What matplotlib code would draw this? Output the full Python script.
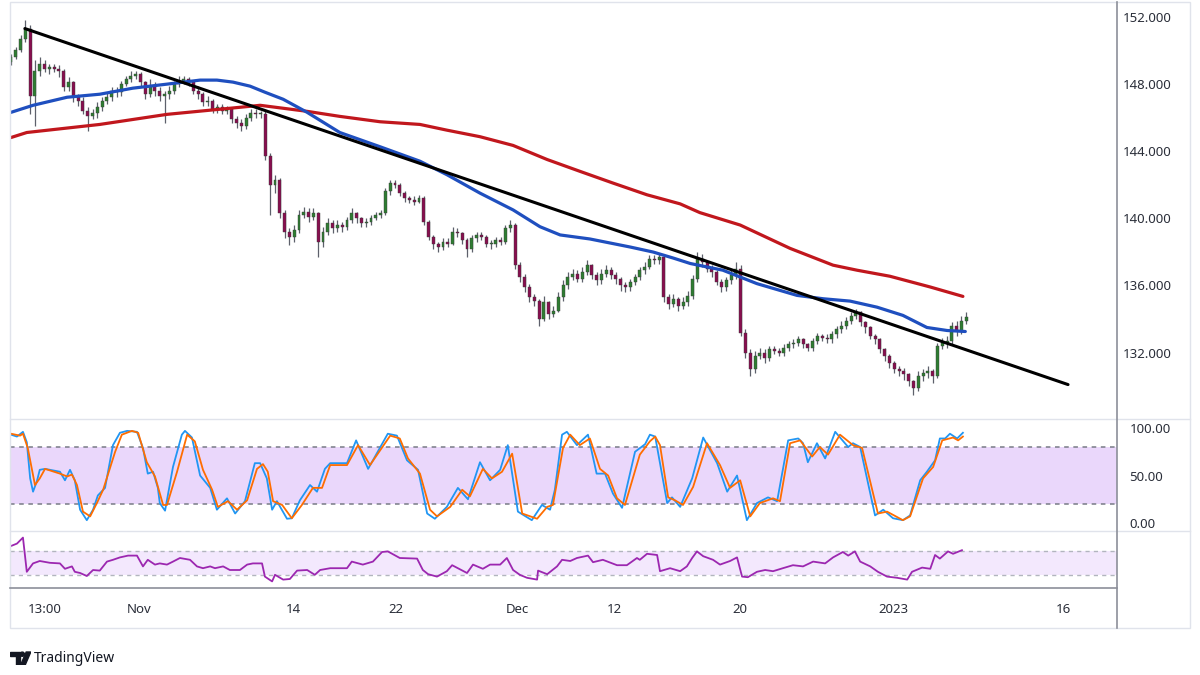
import numpy as np
import matplotlib.pyplot as plt
from matplotlib.lines import Line2D
from matplotlib.patches import Rectangle, Circle, Polygon

plt.rcParams['font.family'] = ['Noto Sans', 'DejaVu Sans']

# --- price candles (4h bars), open = previous close ---
first_open = 149.3
closes = [
    149.6, 150.0, 150.7, 151.3, 147.3, 148.8, 149.2, 148.9, 149.0, 148.9,
    148.8, 147.8, 148.1, 147.2, 147.0, 146.4, 146.1, 146.3, 146.6, 147.0,
    147.2, 147.6, 147.5, 148.0, 148.3, 148.5, 148.6, 148.1, 147.4, 147.9,
    147.6, 147.3, 147.4, 147.6, 148.0, 148.2, 148.3, 148.1, 147.6, 147.4,
    146.9, 147.0, 146.5, 146.6, 146.4, 146.5, 145.9, 145.7, 145.5, 146.0,
    146.3, 146.2, 146.2, 143.7, 142.0, 142.3, 140.3, 139.2, 138.9, 139.3,
    140.2, 140.4, 140.1, 140.3, 138.6, 139.2, 139.7, 139.4, 139.6, 139.5,
    139.9, 140.3, 140.0, 139.7, 139.8, 140.0, 140.2, 140.3, 141.6, 142.1,
    142.0, 141.5, 141.2, 141.1, 141.0, 141.2, 139.8, 138.9, 138.5, 138.3,
    138.6, 138.5, 139.2, 139.1, 138.7, 138.2, 138.8, 139.0, 138.9, 138.5,
    138.5, 138.7, 138.6, 139.4, 139.6, 137.2, 136.5, 135.9, 135.3, 135.1,
    134.0, 135.0, 134.3, 134.5, 135.3, 136.0, 136.5, 136.7, 136.4, 136.8,
    137.2, 136.6, 136.3, 136.7, 136.9, 136.6, 136.4, 136.0, 135.9, 136.2,
    136.5, 136.9, 137.1, 137.6, 137.5, 137.7, 135.3, 134.9, 135.2, 134.8,
    135.0, 135.4, 136.4, 137.6, 137.4, 137.0, 136.8, 136.2, 135.9, 136.3,
    136.6, 137.0, 133.2, 132.0, 131.0, 131.8, 132.0, 131.7, 132.2, 132.1,
    132.0, 132.3, 132.5, 132.6, 132.8, 132.5, 132.3, 132.7, 133.0, 132.9,
    132.8, 133.1, 133.4, 133.6, 133.9, 134.2, 134.4, 133.8, 133.5, 133.0,
    132.8, 132.2, 131.8, 131.4, 131.0, 130.9, 130.7, 130.3, 129.9, 130.6,
    130.8, 130.9, 130.6, 132.4, 132.6, 132.7, 133.6, 133.3, 133.9, 134.1,
]
highs = [
    149.8, 150.2, 150.9, 151.8, 151.5, 149.4, 149.6, 149.4, 149.2, 149.2,
    149.1, 148.9, 148.4, 148.2, 147.4, 147.2, 146.6, 146.5, 146.9, 147.2,
    147.5, 147.8, 147.8, 148.2, 148.5, 148.8, 148.8, 148.7, 148.2, 148.3,
    148.1, 147.8, 147.6, 147.9, 148.2, 148.5, 148.5, 148.4, 148.2, 147.9,
    147.5, 147.3, 147.1, 146.8, 146.8, 146.7, 146.6, 146.1, 145.9, 146.2,
    146.5, 146.5, 146.4, 146.4, 143.9, 142.6, 142.4, 140.5, 139.4, 139.6,
    140.5, 140.7, 140.6, 140.6, 140.4, 139.5, 140.0, 139.9, 139.9, 139.8,
    140.1, 140.6, 140.4, 140.1, 140.0, 140.2, 140.4, 140.5, 141.8, 142.3,
    142.3, 142.1, 141.6, 141.3, 141.3, 141.4, 141.3, 139.9, 139.0, 138.6,
    138.8, 138.8, 139.5, 139.4, 139.2, 138.8, 139.0, 139.2, 139.2, 139.0,
    138.7, 138.9, 138.9, 139.6, 139.9, 139.7, 137.4, 136.7, 136.1, 135.5,
    135.2, 135.4, 135.1, 134.8, 135.6, 136.3, 136.8, 137.0, 136.9, 137.1,
    137.5, 137.3, 136.8, 137.0, 137.2, 137.1, 136.8, 136.5, 136.2, 136.4,
    136.7, 137.1, 137.4, 137.8, 137.8, 137.9, 137.8, 135.5, 135.5, 135.3,
    135.3, 135.7, 136.6, 138.0, 137.9, 137.5, 137.2, 136.9, 136.4, 136.5,
    136.9, 137.4, 137.2, 133.4, 132.2, 132.1, 132.3, 132.2, 132.4, 132.4,
    132.3, 132.5, 132.7, 132.8, 133.0, 132.9, 132.6, 132.9, 133.2, 133.1,
    133.1, 133.3, 133.6, 133.9, 134.1, 134.4, 134.6, 134.5, 133.9, 133.6,
    133.1, 132.9, 132.3, 131.9, 131.5, 131.2, 131.1, 130.8, 130.4, 130.9,
    131.0, 131.2, 131.0, 132.6, 132.9, 133.0, 133.8, 133.9, 134.2, 134.4,
]
lows = [
    149.1, 149.5, 149.9, 150.5, 146.2, 145.5, 148.5, 148.7, 148.6, 148.7,
    148.4, 147.6, 147.6, 146.9, 146.7, 146.2, 145.2, 145.9, 146.0, 146.4,
    146.8, 147.0, 147.2, 147.3, 147.9, 148.1, 148.3, 147.9, 147.1, 147.2,
    147.3, 147.0, 145.7, 147.1, 147.4, 147.8, 148.0, 147.9, 147.4, 147.1,
    146.7, 146.7, 146.3, 146.3, 146.2, 146.2, 145.7, 145.4, 145.2, 145.3,
    145.8, 146.0, 146.0, 143.5, 140.2, 141.5, 140.0, 138.8, 138.4, 138.6,
    139.1, 140.0, 139.8, 139.9, 137.7, 138.3, 139.0, 139.1, 139.2, 139.2,
    139.3, 139.7, 139.7, 139.5, 139.5, 139.6, 139.9, 140.0, 140.2, 141.4,
    141.8, 141.3, 141.0, 140.9, 140.8, 140.9, 139.6, 138.7, 138.2, 138.0,
    138.1, 138.3, 138.4, 138.9, 138.5, 137.7, 138.0, 138.6, 138.7, 138.3,
    138.2, 138.3, 138.4, 138.5, 139.2, 137.0, 136.2, 135.6, 135.0, 134.8,
    133.6, 133.9, 134.0, 134.1, 134.4, 135.1, 135.8, 136.3, 136.2, 136.2,
    136.6, 136.4, 136.0, 136.1, 136.5, 136.4, 136.1, 135.7, 135.6, 135.7,
    136.0, 136.3, 136.7, 137.0, 137.3, 137.3, 135.0, 134.6, 134.7, 134.5,
    134.6, 134.8, 135.2, 136.2, 137.1, 136.8, 136.5, 136.0, 135.6, 135.7,
    136.1, 136.4, 133.0, 131.7, 130.6, 130.8, 131.6, 131.4, 131.5, 131.9,
    131.8, 131.8, 132.1, 132.3, 132.4, 132.3, 132.1, 132.1, 132.5, 132.7,
    132.6, 132.6, 132.9, 133.2, 133.4, 133.7, 134.0, 133.6, 133.2, 132.8,
    132.5, 132.0, 131.5, 131.1, 130.8, 130.6, 130.4, 130.0, 129.5, 129.7,
    130.3, 130.5, 130.2, 130.5, 132.2, 132.3, 132.5, 133.0, 133.1, 133.7,
]

# moving averages, read at bar positions
ma_blue_bar = [0, 4.6, 11.7, 18.5, 25.4, 32.5, 39.4, 42.9, 46.25, 49.8, 52.9, 56.7,
               61.7, 68.5, 76.9, 85.2, 90.8, 97.7, 104.6, 110.2, 114.4, 120.6, 129,
               133.8, 138, 141.5, 148.3, 155.4, 163.75, 169.2, 174.8, 180.4, 185.8,
               190.8, 195, 198.8]
ma_blue = [146.31, 146.73, 147.21, 147.39, 147.75, 147.99, 148.23, 148.23, 148.11,
           147.87, 147.51, 147.09, 146.31, 145.11, 144.26, 143.40, 142.60, 141.50,
           140.50, 139.50, 139.01, 138.77, 138.29, 137.99, 137.63, 137.31, 136.91,
           136.11, 135.41, 135.21, 135.07, 134.71, 134.22, 133.50, 133.32, 133.26]
ma_red_bar = [0, 3.3, 18.5, 32.5, 49.8, 51.9, 61.7, 68.5, 76.9, 85.2, 90.8, 97.7,
              104.6, 111.7, 118.5, 125.4, 132.5, 139.4, 143.5, 151.9, 162.3, 171.25,
              176.25, 183.1, 191.5, 198.3]
ma_red = [144.81, 145.11, 145.59, 146.19, 146.67, 146.73, 146.37, 146.07, 145.75,
          145.59, 145.25, 144.86, 144.34, 143.50, 142.80, 142.10, 141.40, 140.86,
          140.34, 139.60, 138.21, 137.21, 136.91, 136.55, 135.91, 135.35]

# trendline anchors
trend_bar = [2.9, 220.2]
trend_price = [151.3, 130.1]

# stochastic %K / %D
stk_bar = [0, 1.25, 2.5, 3.3, 4, 4.6, 5.4, 6, 7.1, 10.2, 11.25, 12.3, 13.3, 14.4, 15.8,
           17.1, 18.1, 19.6, 21.25, 22.7, 24.2, 26.25, 27.5, 28.5, 29.6, 30.6, 31, 32.1,
           33.75, 35.6, 36.25, 37.7, 39.4, 41.5, 42.9, 45, 46.7, 48.75, 50.8, 51.9, 53.3,
           54.4, 55.4, 57.5, 58.5, 60.2, 62.3, 63.75, 65.4, 66.5, 70, 71.9, 74.4, 78.5,
           80.4, 82.5, 84.8, 86.7, 88.3, 90.8, 93.1, 95.2, 97.7, 99.8, 101.9, 103.5,
           105.6, 108.5, 110.6, 112.3, 113.3, 114.8, 115.8, 117.9, 120.2, 122, 123.75,
           125.4, 127.3, 130, 132.1, 133.1, 134.2, 136.7, 137.7, 139.4, 141.9, 144.2,
           147.1, 149.2, 151.25, 153.3, 155.4, 157.7, 159.6, 161.9, 164, 165, 166,
           167.9, 169.6, 171.7, 174.4, 175.4, 176.9, 180, 181.7, 183.75, 185.8, 187.3,
           189.4, 190.8, 192.5, 193.5, 194.6, 195.6, 197.1, 198.3]
stk = [93, 91, 96, 85, 47, 33, 44, 56, 57, 54, 45, 56, 45, 14, 3,
       14, 29, 37, 82, 95, 97, 96, 79, 52, 54, 37, 21, 13,
       59, 93, 97, 90, 50, 37, 14, 26, 10, 23, 63, 63, 47,
       14, 23, 4.5, 5, 24, 40, 33, 57, 63, 63, 87, 57, 94,
       92, 66, 56, 10, 4.5, 17, 37, 25, 64, 45, 56, 82,
       12, 3, 19, 14, 35, 93, 96, 82, 93, 52, 52,
       31, 16, 75, 83, 93, 91, 21, 27, 17, 47, 90,
       63, 33, 50, 3, 21, 27, 23, 87, 89, 84, 64,
       84, 68, 96, 80, 84, 80, 8, 14, 5, 3, 8,
       45, 54, 66, 89, 89, 94, 89, 95]
std_bar = [0, 1.9, 2.5, 3.5, 5, 6, 7.1, 10.2, 11.7, 12.7, 13.75, 15, 16.5, 17.9, 19.2,
           21.7, 23.1, 25.2, 26.5, 28.3, 30, 31.7, 32.5, 34.6, 36.7, 38.3, 40, 41.9,
           43.1, 45.2, 47.1, 49.2, 51.25, 52.5, 53.5, 54.6, 56.5, 58.5, 60.6, 62.9,
           64.8, 66.5, 70, 72.3, 74.8, 79, 81, 82.7, 85.2, 87.3, 88.75, 91.5, 94, 95.6,
           98.3, 100.2, 102.3, 104.4, 106.5, 109.6, 111.7, 112.9, 115, 116.5, 118.5,
           120.6, 122.7, 124.4, 126.25, 127.9, 131, 133.1, 134.2, 135.2, 136.9, 138.3,
           140, 142.1, 145, 147.7, 149.8, 151.9, 154, 156, 158.75, 160.2, 162.3,
           164.4, 166.9, 168.5, 170.2, 172.7, 175.4, 177.3, 180.6, 182.5, 185.8,
           187.3, 190, 192.1, 194, 196.25, 197.3, 198.3]
std = [94, 92, 94, 79, 40, 47, 57, 52, 49, 51, 40, 12, 7, 21, 35,
       75, 93, 97, 95, 64, 49, 19, 19, 54, 93, 86, 56, 35,
       17, 23, 14, 24, 57, 62, 54, 23, 19, 5, 19, 37,
       37, 61, 61, 82, 61, 92, 89, 68, 52, 14, 7, 17, 35, 28,
       57, 47, 54, 73, 10, 4.5, 17, 19, 79, 93, 82,
       89, 57, 50, 26, 19, 72, 86, 91, 82, 27, 24,
       19, 38, 84, 61, 37, 45, 7, 21, 26, 23, 84,
       87, 70, 80, 72, 93, 82, 79, 10, 12, 3,
       7, 47, 59, 87, 90, 87, 91]

# RSI
rsi_bar = [0, 1.25, 2.5, 3.3, 4.6, 6, 8.1, 10.2, 11.25, 12.7, 13.3, 14.4, 15.8, 17.1,
           18.5, 20, 21.25, 22.7, 24.4, 26.25, 27.5, 28.5, 30, 31, 32.5, 33.75, 35.2,
           37.3, 38.75, 40, 41.5, 42.5, 44.2, 45.6, 47.7, 49.2, 50.4, 52.3, 52.9, 54.4,
           55, 56.7, 58.1, 59.6, 61.7, 63.3, 64.4, 66.5, 70, 71, 73.3, 75.4, 77.3, 78.5,
           81, 84.6, 85.8, 86.9, 88.75, 90.8, 91.9, 95, 96.25, 98.3, 99.8, 101.9, 103.3,
           104.6, 106, 107.5, 109.6, 109.8, 111.7, 113.75, 114.8, 116.5, 117.9, 120.2,
           121.25, 123.3, 126.25, 128.3, 130.4, 131, 132.5, 134.6, 135.2, 137.3, 139.4,
           140.8, 141.9, 142.9, 144.2, 146.25, 147.7, 149.8, 151.25, 152.3, 153.5,
           155.4, 157.1, 158.75, 160.8, 162.9, 165, 167.1, 169.6, 171.25, 173.3, 174.4,
           175.8, 176.9, 179, 180.6, 182.5, 184.6, 186.7, 187.7, 189.8, 191.5, 192.5,
           193.5, 195.2, 196.25, 198.1]
rsi = [78, 82, 92, 35, 49, 53, 50, 49, 40, 44, 35, 33, 28, 38,
       37, 52, 55, 59, 62, 62, 44, 55, 47, 49, 47, 52, 58,
       55, 44, 41, 44, 41, 44, 38, 38, 47, 49, 49, 27, 19,
       30, 22, 23, 37, 38, 30, 38, 41, 41, 52, 47, 52, 68, 69,
       58, 57, 38, 31, 27, 36, 46, 33, 47, 40, 47, 47, 58,
       38, 30, 25, 22, 37, 31, 44, 55, 53, 58, 62,
       51, 55, 46, 46, 58, 55, 65, 63, 36, 41, 36,
       44, 58, 69, 61, 55, 47, 53, 59, 27, 26,
       35, 38, 36, 41, 46, 44, 52, 49, 59, 68, 62,
       69, 52, 44, 35, 27, 25, 22, 35, 42, 40, 63,
       57, 69, 65, 71]

# time axis labels
date_bar = [7.1, 26.7, 58.9, 80.2, 105.4, 125.6, 151.9, 183.75, 219.2]
date_labels = ['13:00', 'Nov', '14', '22', 'Dec', '12', '20', '2023', '16']

price_ticks = [132, 136, 140, 144, 148, 152]

W, H = 1200, 675


def fx(px):
    return px / W


def fy(py):
    return 1 - py / H


TXT = '#2a2e39'
AXIS = '#8c8f99'
LIGHT = '#e0e3eb'

fig = plt.figure(figsize=(12, 6.75), dpi=100)
fig.patch.set_facecolor('white')

left, right = 10, 1117
ax_p = fig.add_axes([fx(left), fy(419), (right - left) / W, 419 / H])
ax_s = fig.add_axes([fx(left), fy(531), (right - left) / W, 112 / H])
ax_r = fig.add_axes([fx(left), fy(588), (right - left) / W, 57 / H])

xlim = (-0.2, 230.4)
for ax in (ax_p, ax_s, ax_r):
    ax.set_xlim(*xlim)
    for s in ax.spines.values():
        s.set_visible(False)
    ax.set_facecolor('none')

# candles
c = np.array(closes)
o = np.r_[first_open, c[:-1]]
hi = np.array(highs)
lo = np.array(lows)
bars = np.arange(len(c))
up = c >= o
body_col = np.where(up, '#2e7d32', '#880e4f')
ax_p.vlines(bars, lo, hi, color='#5d606b', lw=0.9, zorder=2)
ax_p.bar(bars, np.maximum(np.abs(c - o), 0.05), bottom=np.minimum(o, c), width=0.62,
         color=body_col, edgecolor='#3a3a3a', linewidth=0.3, zorder=3)

ax_p.plot(ma_red_bar, ma_red, color='#c1171d', lw=2.3, solid_capstyle='round',
          solid_joinstyle='round', zorder=4)
ax_p.plot(ma_blue_bar, ma_blue, color='#1f4fbf', lw=2.3, solid_capstyle='round',
          solid_joinstyle='round', zorder=5)
ax_p.plot(trend_bar, trend_price, color='black', lw=2.2, solid_capstyle='round', zorder=6)

ax_p.set_ylim(128.05, 153.0)
ax_p.yaxis.tick_right()
ax_p.set_yticks(price_ticks)
ax_p.set_yticklabels([f'{v:.3f}' for v in price_ticks])
ax_p.tick_params(axis='y', length=0, pad=4, labelsize=9.5, labelcolor=TXT)
ax_p.tick_params(axis='x', length=0, labelbottom=False)

# stochastic
ax_s.axhspan(20, 80, color='#ead7fb', lw=0, zorder=0)
for lvl in (20, 80):
    ax_s.axhline(lvl, color='#787b86', lw=1.1, ls=(0, (3, 3)), zorder=1)
ax_s.plot(stk_bar, stk, color='#2196f3', lw=1.3, zorder=3)
ax_s.plot(std_bar, std, color='#ff6d00', lw=1.3, zorder=4)
ax_s.set_ylim(-8.4, 109.5)
ax_s.yaxis.tick_right()
ax_s.set_yticks([0, 50, 100])
ax_s.set_yticklabels(['0.00', '50.00', '100.00'])
ax_s.tick_params(axis='y', length=0, pad=9, labelsize=9.5, labelcolor=TXT)
ax_s.tick_params(axis='x', length=0, labelbottom=False)

# rsi
ax_r.axhspan(30, 70, color='#f3e8fd', lw=0, zorder=0)
for lvl in (30, 70):
    ax_r.axhline(lvl, color='#b2b5be', lw=1.0, ls=(0, (3, 3)), zorder=1)
ax_r.plot(rsi_bar, rsi, color='#9c27b0', lw=1.3, zorder=3)
ax_r.set_ylim(8, 103)
ax_r.set_yticks([])
ax_r.set_xticks(date_bar)
ax_r.set_xticklabels(date_labels)
ax_r.tick_params(axis='x', length=0, pad=11, labelsize=9.5, labelcolor=TXT)


# frame lines
def fig_line(x0, y0, x1, y1, color, lw):
    fig.add_artist(Line2D([fx(x0), fx(x1)], [fy(y0), fy(y1)], transform=fig.transFigure,
                          color=color, lw=lw))


fig.add_artist(Rectangle((fx(10), fy(628)), (1190 - 10) / W, 626 / H, transform=fig.transFigure,
                         fill=False, edgecolor=LIGHT, lw=1.0))
fig_line(10, 419, 1190, 419, LIGHT, 1.0)
fig_line(10, 531, 1190, 531, LIGHT, 1.0)
fig_line(10, 588, right, 588, AXIS, 1.2)
fig_line(right, 2, right, 628, AXIS, 1.2)

# TradingView mark
lx = fig.add_axes([fx(10), fy(665), 21 / W, 14 / H])
lx.set_xlim(0, 21)
lx.set_ylim(0, 14)
lx.axis('off')
lx.add_patch(Polygon([(0, 13), (9.5, 13), (9.5, 0), (5.5, 0), (5.5, 9), (0, 9)], color='#131722'))
lx.add_patch(Circle((12.3, 10.8), 2.1, color='#131722'))
lx.add_patch(Polygon([(16.2, 13), (20.8, 13), (15.2, 0), (10.6, 0)], color='#131722'))
fig.text(fx(34), fy(658), 'TradingView', fontsize=10, color='#131722', va='center', ha='left')

fig.savefig('out.png', dpi=100)
